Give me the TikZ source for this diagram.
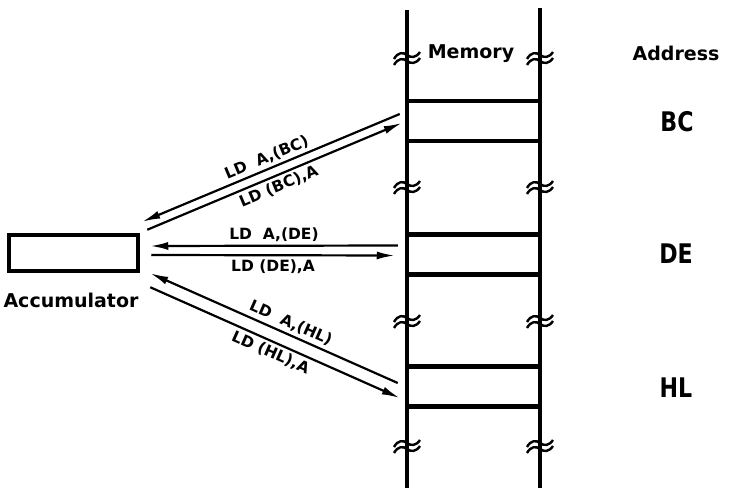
\documentclass[tikz,border=0pt]{standalone}
\usepackage{fontspec}
\setmainfont{DejaVu Sans}
\usetikzlibrary{arrows.meta,calc}

\tikzset{
  lbl/.style={font=\bfseries\fontsize{19}{21}\selectfont, inner sep=0pt, anchor=base},
  reg/.style={font=\bfseries\fontsize{27}{29}\selectfont, inner sep=0pt, anchor=base},
  op/.style={font=\bfseries\fontsize{15.5}{17}\selectfont, inner sep=3pt},
  cell/.style={draw, line width=4.5pt, minimum width=133pt, minimum height=40pt, inner sep=0pt},
  accbox/.style={draw, line width=4.5pt, minimum width=129pt, minimum height=36pt, inner sep=0pt},
  rail/.style={line width=4.5pt},
  xfer/.style={line width=2.2pt, -{Latex[length=18pt,width=8pt]}},
  brk/.pic={
    \draw[line width=2.4pt] (-13,1) .. controls (-9,-6) and (-4,-6) .. (0,-3)
        .. controls (4,0) and (9,0) .. (13,-6);
    \draw[line width=2.4pt] (-13,7) .. controls (-9,0) and (-4,0) .. (0,3)
        .. controls (4,6) and (9,6) .. (13,0);
  }
}

\begin{document}
\begin{tikzpicture}[x=1pt, y=-1pt]
    \useasboundingbox (0,0) rectangle (729,492);

    % memory column: two rails, three cells
    \draw[rail] (407,10) -- (407,488);
    \draw[rail] (540,8) -- (540,488);
    \node[cell] (bc) at (473.5,121) {};
    \node[cell] (de) at (473.5,254.5) {};
    \node[cell] (hl) at (473.5,386.5) {};
    \foreach \y in {58,187,321,446} {
        \pic at (407,\y) {brk};
        \pic at (540,\y) {brk};
    }

    \node[lbl] (mem) at (471,59) {Memory};
    \node[lbl] (adr) at (676,61) {Address};
    \node[reg] (rbc) at (677,132) {\scalebox{0.82}[1]{BC}};
    \node[reg] (rde) at (676,263) {\scalebox{0.82}[1]{DE}};
    \node[reg] (rhl) at (676,397) {\scalebox{0.82}[1]{HL}};

    % accumulator
    \node[accbox] (acc) at (73.5,253) {};
    \node[lbl] (accl) at (71,307) {Accumulator};

    % transfers
    \draw[xfer] ($(bc.west)+(-5,-7)$) -- ($(acc.north east)+(2,-11)$)
        node[op, sloped, above, midway] {LD\ \ A,(BC)};
    \draw[xfer] ($(acc.north east)+(7,-3)$) -- ($(bc.west)+(-3,2)$)
        node[op, sloped, below, midway] {LD\ (BC),A};
    \draw[xfer] ($(de.west)+(-7,-9)$) -- ($(acc.east)+(10,-7)$)
        node[op, above, midway] {LD\ \ A,(DE)};
    \draw[xfer] ($(acc.east)+(11,2)$) -- ($(de.west)+(-10,1)$)
        node[op, below, midway] {LD\ (DE),A};
    \draw[xfer] ($(hl.west)+(-7,-3.5)$) -- ($(acc.south east)+(10,0)$)
        node[op, sloped, above, pos=0.45] {LD\ \ A,(HL)};
    \draw[xfer] ($(acc.south east)+(10,14)$) -- ($(hl.west)+(-5,11.5)$)
        node[op, sloped, below, midway] {LD\ (HL),A};
\end{tikzpicture}
\end{document}
